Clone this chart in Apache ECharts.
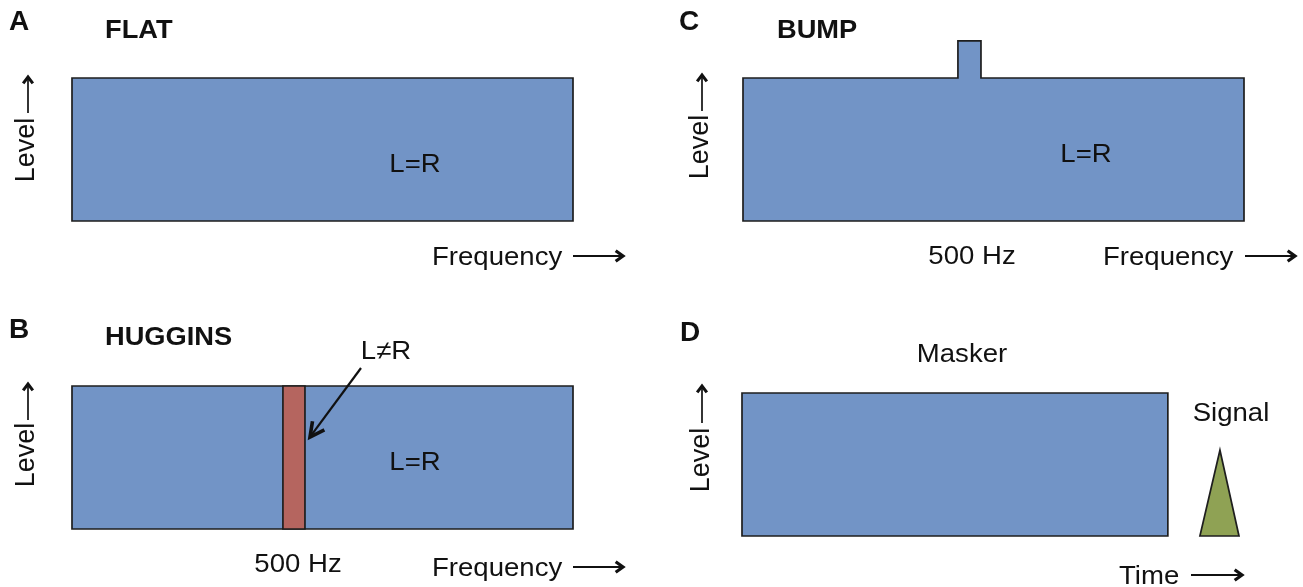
<!DOCTYPE html>
<html>
<head>
<meta charset="utf-8">
<script src="https://cdn.jsdelivr.net/npm/echarts@6/dist/echarts.min.js"></script>
<style>
html,body{margin:0;padding:0;background:#fff;}
#chart{width:1303px;height:587px;}
</style>
</head>
<body>
<div id="chart"></div>
<script>
// ---------- data (arbitrary units) ----------
const freqRange = [0, 100];          // frequency axis span
const levelRange = [0, 1];           // level axis span
const flatLevel = 1;                 // level of the flat noise spectrum
const bumpFreq = [42.9, 47.5];       // 500 Hz bump (panel C)
const bumpLevel = 1.26;
const hugginsFreq = [42.1, 46.5];    // 500 Hz L≠R band (panel B)
const maskerTime = [0, 85];          // masker on/off (panel D)
const maskerLevel = 1;
const signalTime = [91.4, 95.4, 99.2];
const signalLevel = [0, 0.6, 0];

const panelLetters = ['A', 'B', 'C', 'D'];
const panelTitles = ['FLAT', 'HUGGINS', 'BUMP', ''];
const xAxisNames = ['Frequency', 'Frequency', 'Frequency', 'Time'];
const yAxisName = 'Level';

// ---------- styles ----------
const FONT = '"Liberation Sans", Arial, Helvetica, sans-serif';
const BLUE = '#7294c6', RED = '#b5655f', GREEN = '#8fa254', EDGE = '#1e1e1e';

const grids = [
  {left: 72,  top: 78,  width: 501, height: 143},   // A
  {left: 72,  top: 386, width: 501, height: 143},   // B
  {left: 743, top: 78,  width: 501, height: 143},   // C
  {left: 742, top: 393, width: 501, height: 143}    // D
];

// ---------- shapes built from data ----------
const flatShape = [[freqRange[0],0],[freqRange[0],flatLevel],[freqRange[1],flatLevel],[freqRange[1],0]];
const bumpShape = [[freqRange[0],0],[freqRange[0],flatLevel],[bumpFreq[0],flatLevel],[bumpFreq[0],bumpLevel],
                   [bumpFreq[1],bumpLevel],[bumpFreq[1],flatLevel],[freqRange[1],flatLevel],[freqRange[1],0]];
const bandShape = [[hugginsFreq[0],0],[hugginsFreq[0],flatLevel],[hugginsFreq[1],flatLevel],[hugginsFreq[1],0]];
const maskerShape = [[maskerTime[0],0],[maskerTime[0],maskerLevel],[maskerTime[1],maskerLevel],[maskerTime[1],0]];
const signalShape = signalTime.map((t, i) => [t, signalLevel[i]]);

function polySeries(idx, pts, fill, z) {
  return {
    type: 'custom', xAxisIndex: idx, yAxisIndex: idx, clip: false, silent: true, z: z,
    data: pts,
    renderItem: function (params, api) {
      if (params.dataIndex !== 0) return null;
      const points = pts.map(p => api.coord(p));
      return {type: 'polygon', shape: {points: points},
              style: {fill: fill, stroke: EDGE, lineWidth: 1.7}};
    }
  };
}

// ---------- annotations ----------
const g = [];
function txt(s, x, y, size, opts) {
  opts = opts || {};
  g.push({type: 'text', x: x, y: y, rotation: opts.rot || 0, z: 100,
    scaleX: opts.sx || 1, scaleY: opts.sy || 1,
    style: {text: s, fill: '#111', font: (opts.bold ? 'bold ' : '') + size + 'px ' + FONT,
            align: opts.align || 'left', verticalAlign: 'middle'}});
}
function arrow(x1, y1, x2, y2, head, lw, hw, sp) {
  g.push({type: 'line', z: 100, shape: {x1: x1, y1: y1, x2: x2 - (x2 - x1) * 0.02, y2: y2 - (y2 - y1) * 0.02},
          style: {stroke: '#111', lineWidth: lw}});
  const a = Math.atan2(y2 - y1, x2 - x1);
  const w1 = [x2 - head * Math.cos(a - sp), y2 - head * Math.sin(a - sp)];
  const w2 = [x2 - head * Math.cos(a + sp), y2 - head * Math.sin(a + sp)];
  g.push({type: 'polyline', z: 101, shape: {points: [w1, [x2, y2], w2]},
    style: {stroke: '#111', lineWidth: hw, fill: null, lineJoin: 'miter', lineCap: 'butt'}});
}
const SX = 1.06, SXB = 1.09;

// panel letters & titles
txt(panelLetters[0], 9, 22, 28, {bold: true});
txt(panelTitles[0], 105, 31, 25, {bold: true, sx: SXB});
txt(panelLetters[1], 9, 330, 28, {bold: true});
txt(panelTitles[1], 105, 338, 25, {bold: true, sx: SXB});
txt(panelLetters[2], 679, 22, 28, {bold: true});
txt(panelTitles[2], 777, 31, 25, {bold: true, sx: SXB});
txt(panelLetters[3], 680, 333, 28, {bold: true});

// y "Level ↑"  [textX, textY, arrowX, arrowBottom, arrowTop]
[[27, 150, 28, 113, 77], [27, 455, 28, 420, 384], [701, 147, 702, 111, 75], [702, 460, 702, 423, 386]]
  .forEach(v => {
    txt(yAxisName, v[0], v[1], 27, {rot: Math.PI / 2, align: 'center'});
    arrow(v[2], v[3], v[2], v[4], 8, 1.7, 3, 0.65);
  });

// x names with arrows
txt(xAxisNames[0], 432, 258, 26, {sx: SX}); arrow(573, 256, 623, 256, 9, 1.8, 3.2, 0.62);
txt(xAxisNames[1], 432, 569, 26, {sx: SX}); arrow(573, 567, 623, 567, 9, 1.8, 3.2, 0.62);
txt(xAxisNames[2], 1103, 258, 26, {sx: SX}); arrow(1245, 256, 1295, 256, 9, 1.8, 3.2, 0.62);
txt(xAxisNames[3], 1119, 577, 26, {sx: SX}); arrow(1191, 575, 1242, 575, 9, 1.8, 3.2, 0.62);

// inner labels
txt('L=R', 415, 165, 26, {align: 'center', sx: SX});
txt('L=R', 1086, 155, 26, {align: 'center', sx: SX});
txt('L=R', 415, 463, 26, {align: 'center', sx: SX});
txt('500 Hz', 972, 257, 26, {align: 'center', sx: SX});
txt('500 Hz', 298, 565, 26, {align: 'center', sx: SX});
txt('L≠R', 386, 352, 26, {align: 'center', sx: SX});
arrow(361, 368, 310, 437, 16, 2.2, 3.6, 0.48);
txt('Masker', 962, 355, 26, {align: 'center', sx: SX});
txt('Signal', 1231, 414, 26, {align: 'center', sx: SX});

const chart = echarts.init(document.getElementById('chart'), null, {renderer: 'canvas'});
chart.setOption({
  animation: false,
  backgroundColor: '#ffffff',
  grid: grids,
  xAxis: grids.map((_, i) => ({gridIndex: i, type: 'value', min: freqRange[0], max: freqRange[1], show: false})),
  yAxis: grids.map((_, i) => ({gridIndex: i, type: 'value', min: levelRange[0], max: levelRange[1], show: false})),
  series: [
    polySeries(0, flatShape, BLUE, 2),
    polySeries(1, flatShape, BLUE, 2),
    polySeries(1, bandShape, RED, 3),
    polySeries(2, bumpShape, BLUE, 2),
    polySeries(3, maskerShape, BLUE, 2),
    polySeries(3, signalShape, GREEN, 2)
  ],
  graphic: g
});
</script>
</body>
</html>
